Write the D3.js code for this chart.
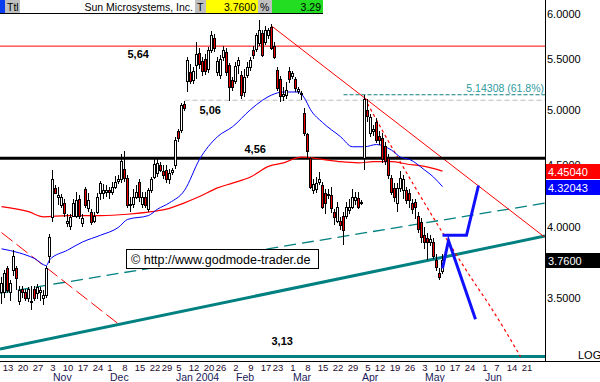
<html>
<head>
<meta charset="utf-8">
<script src="https://d3js.org/d3.v7.min.js"></script>
<style>
  body { margin: 0; background: #fff; }
  svg { display: block; }
</style>
</head>
<body>
<script>
    // ---- data ----
    const title = "Sun Microsystems, Inc.";
    const lastPrice = 3.76;
    const changePct = 3.29;
    const firstDay = "2003-10-09";
    const lastDay = "2004-06-30";
    const holidays = ["2003-11-27", "2003-12-25", "2004-01-01", "2004-01-19", "2004-02-16", "2004-04-09", "2004-05-31"];

    // daily candles, 2003-10-09 .. 2004-05-11
    const open = [
        3.54,3.54,3.70,3.54,3.69,3.70,3.48,3.56,3.54,3.50,
        3.48,3.56,3.53,3.54,3.50,3.52,3.79,4.08,4.31,4.24,
        4.17,4.19,4.03,4.01,4.09,4.09,4.22,4.03,4.30,4.15,
        4.12,4.05,4.12,4.27,4.27,4.28,4.29,4.28,4.32,4.37,
        4.38,4.47,4.39,4.17,4.18,4.24,4.36,4.18,4.24,4.14,
        4.29,4.40,4.43,4.50,4.45,4.46,4.38,4.44,4.50,4.80,
        4.81,5.05,5.28,5.37,5.29,5.44,5.57,5.48,5.50,5.40,
        5.60,5.73,5.37,5.34,5.52,5.58,5.44,5.29,5.28,5.44,
        5.34,5.17,5.34,5.42,5.60,5.61,5.67,5.78,5.68,5.76,
        5.85,5.64,5.39,5.30,5.13,5.14,5.38,5.33,5.30,5.18,
        5.16,4.97,4.77,4.56,4.29,4.30,4.36,4.33,4.27,4.25,
        4.25,4.12,4.05,4.05,4.09,4.09,4.13,4.16,4.21,4.23,
        4.19,4.56,5.00,4.78,4.80,4.88,4.76,4.74,4.67,4.56,
        4.39,4.31,4.19,4.31,4.29,4.29,4.27,4.19,4.20,4.09,
        4.04,3.94,3.92,3.89,3.89,3.76,3.67,3.68];
    const high = [
        3.64,3.69,3.72,3.62,3.83,3.72,3.58,3.58,3.56,3.57,
        3.58,3.58,3.59,3.57,3.55,3.72,3.95,4.46,4.33,4.32,
        4.26,4.22,4.10,4.10,4.22,4.28,4.25,4.10,4.32,4.27,
        4.14,4.12,4.27,4.37,4.34,4.33,4.32,4.36,4.41,4.42,
        4.60,4.62,4.42,4.24,4.30,4.33,4.38,4.28,4.28,4.31,
        4.40,4.56,4.56,4.53,4.50,4.50,4.47,4.48,4.75,4.82,
        5.06,5.08,5.52,5.45,5.42,5.68,5.62,5.52,5.56,5.63,
        5.80,5.77,5.52,5.55,5.64,5.62,5.46,5.32,5.47,5.52,
        5.38,5.40,5.47,5.53,5.64,5.78,5.93,5.82,5.86,5.84,
        5.88,5.68,5.42,5.33,5.22,5.27,5.42,5.38,5.32,5.22,
        5.18,5.02,4.78,4.57,4.38,4.40,4.44,4.36,4.30,4.30,
        4.32,4.14,4.20,4.08,4.12,4.20,4.22,4.30,4.28,4.28,
        4.21,5.14,5.10,4.96,4.86,4.92,4.80,4.78,4.70,4.60,
        4.42,4.35,4.35,4.45,4.42,4.32,4.30,4.22,4.22,4.12,
        4.07,4.00,3.96,3.94,3.92,3.80,3.70,3.80];
    const low = [
        3.46,3.50,3.53,3.48,3.65,3.55,3.45,3.50,3.48,3.47,
        3.42,3.48,3.49,3.48,3.45,3.50,3.74,4.04,4.26,4.17,
        4.15,4.08,4.00,3.98,4.08,4.07,4.06,4.00,4.15,4.12,
        4.02,4.03,4.10,4.21,4.22,4.24,4.22,4.25,4.30,4.34,
        4.35,4.36,4.15,4.12,4.15,4.22,4.20,4.15,4.15,4.12,
        4.27,4.38,4.40,4.44,4.38,4.35,4.34,4.42,4.47,4.70,
        4.78,4.99,5.17,5.25,5.25,5.30,5.40,5.33,5.34,5.36,
        5.57,5.58,5.33,5.30,5.48,5.33,5.08,5.18,5.25,5.35,
        5.10,5.12,5.31,5.38,5.50,5.58,5.64,5.52,5.65,5.72,
        5.60,5.50,5.18,5.07,5.08,5.10,5.26,5.30,5.17,5.15,
        5.09,4.76,4.56,4.30,4.26,4.27,4.33,4.14,4.10,4.22,
        4.11,4.02,4.03,3.98,3.87,4.06,4.10,4.14,4.17,4.14,
        4.17,4.46,4.88,4.75,4.76,4.69,4.68,4.52,4.50,4.38,
        4.25,4.20,4.12,4.28,4.22,4.18,4.15,4.10,4.06,3.96,
        3.88,3.84,3.76,3.86,3.77,3.68,3.62,3.66];
    const close = [
        3.60,3.67,3.55,3.60,3.79,3.63,3.55,3.54,3.50,3.56,
        3.47,3.50,3.57,3.55,3.52,3.70,3.93,4.38,4.27,4.25,
        4.24,4.11,4.05,4.08,4.19,4.21,4.09,4.07,4.17,4.21,
        4.04,4.09,4.24,4.35,4.29,4.29,4.28,4.32,4.36,4.38,
        4.54,4.39,4.17,4.18,4.24,4.28,4.24,4.24,4.17,4.29,
        4.38,4.51,4.52,4.46,4.42,4.38,4.43,4.46,4.72,4.74,
        5.04,5.02,5.49,5.28,5.38,5.56,5.45,5.38,5.38,5.60,
        5.76,5.62,5.48,5.50,5.60,5.37,5.22,5.22,5.43,5.49,
        5.14,5.32,5.42,5.49,5.55,5.76,5.82,5.55,5.82,5.81,
        5.62,5.53,5.21,5.13,5.15,5.19,5.30,5.36,5.21,5.20,
        5.15,4.78,4.62,4.32,4.34,4.35,4.38,4.16,4.19,4.26,
        4.15,4.08,4.16,4.02,3.98,4.16,4.16,4.24,4.24,4.16,
        4.20,5.10,4.94,4.93,4.82,4.72,4.72,4.55,4.54,4.42,
        4.28,4.24,4.31,4.39,4.38,4.21,4.21,4.14,4.16,3.99,
        3.93,3.89,3.89,3.91,3.79,3.71,3.64,3.76];

    // moving averages, read at sample dates
    const blueMaDates = ["2003-10-09","2003-10-17","2003-10-24","2003-10-30","2003-10-31","2003-11-10","2003-11-17","2003-11-25","2003-12-04","2003-12-09","2003-12-18","2003-12-23","2003-12-30","2004-01-07","2004-01-14","2004-01-23","2004-01-30","2004-02-09","2004-02-13","2004-02-19","2004-02-25","2004-03-03","2004-03-05","2004-03-09","2004-03-15","2004-03-23","2004-03-29","2004-04-02","2004-04-08","2004-04-16","2004-04-21","2004-04-26","2004-05-03","2004-05-06","2004-05-11"];
    const blueMa = [3.84,3.81,3.77,3.72,3.76,3.83,3.89,3.94,4.00,4.06,4.09,4.14,4.19,4.29,4.55,4.75,4.84,5.00,5.09,5.14,5.17,5.17,5.11,5.00,4.88,4.75,4.66,4.66,4.68,4.63,4.57,4.55,4.46,4.40,4.32];
    const redMaDates = ["2003-10-09","2003-10-22","2003-10-29","2003-11-10","2003-11-25","2003-12-09","2003-12-19","2003-12-29","2004-01-07","2004-01-14","2004-01-23","2004-01-30","2004-02-09","2004-02-18","2004-02-25","2004-03-04","2004-03-15","2004-03-23","2004-03-31","2004-04-07","2004-04-16","2004-04-23","2004-05-03","2004-05-11"];
    const redMa = [4.16,4.12,4.08,4.09,4.09,4.10,4.12,4.14,4.19,4.24,4.31,4.35,4.40,4.49,4.52,4.57,4.55,4.53,4.52,4.53,4.53,4.51,4.49,4.45];

    // drawn levels and trend lines
    const resistance = 5.64, pivot = 4.56, gapLevel = 5.09, floorLevel = 3.13, fibLevel = 5.14308;
    const downTrend = [["2004-02-19", 5.86], ["2004-06-29", 3.927]];
    const oldTrend = [["2003-10-09", 3.96], ["2003-12-04", 3.33]];
    const channel = [["2003-10-09", 3.533], ["2004-06-29", 4.187]];
    const support = [["2003-10-09", 3.177], ["2004-06-29", 3.933]];
    const fastTrend = [["2004-04-02", 5.11], ["2004-04-16", 4.66], ["2004-04-28", 4.31], ["2004-05-11", 3.96], ["2004-05-25", 3.62], ["2004-06-03", 3.44], ["2004-06-17", 3.13]];
    const projUp = [["2004-05-11", 3.94], ["2004-05-21", 3.94], ["2004-05-27", 4.33]];
    const projDown = [["2004-05-11", 3.70], ["2004-05-13", 3.90], ["2004-05-26", 3.36]];
    const priceTicks = [3.5, 4.0, 4.5, 5.0, 5.5, 6.0];
    const redMaLast = 4.45040, blueMaLast = 4.32043;

    // ---- trading calendar ----
    const days = [];
    for (let d = new Date(firstDay + "T12:00:00Z"); d <= new Date(lastDay + "T12:00:00Z"); d.setUTCDate(d.getUTCDate() + 1)) {
        const s = d.toISOString().slice(0, 10);
        const wd = d.getUTCDay();
        if (wd === 0 || wd === 6 || holidays.includes(s)) continue;
        days.push(s);
    }
    const dayIndex = new Map(days.map((d, i) => [d, i]));
    const parse = d3.utcParse("%Y-%m-%d");

    const W = 600, H = 382, plotRight = 545, plotTop = 14, plotBottom = 361;
    const font = '"Liberation Sans", Arial, sans-serif';

    let svg = d3.select("body").append("svg")
        .attr("width", W)
        .attr("height", H)
        .style("font-family", font);

    let x = d3.scaleLinear().domain([0, 181]).range([1.5, 544.5]);
    let y = d3.scaleLog().domain([3.104, 6]).range([plotBottom, 13.5]);

    svg.append("defs").append("clipPath").attr("id", "plot")
        .append("rect").attr("x", 0).attr("y", plotTop).attr("width", plotRight).attr("height", plotBottom - plotTop);
    let plot = svg.append("g").attr("clip-path", "url(#plot)");

    const pt = p => [x(dayIndex.get(p[0])), y(p[1])];
    const line = d3.line();

    // straight line through two anchors, stretched over the plot width
    function stretched(seg) {
        const a = pt(seg[0]), b = pt(seg[1]);
        const s = (b[1] - a[1]) / (b[0] - a[0]);
        return [[0, a[1] - s * a[0]], [plotRight, a[1] + s * (plotRight - a[0])]];
    }

    function path(points, color, width, dash, curve) {
        plot.append("path")
            .attr("d", (curve ? d3.line().curve(curve) : line)(points))
            .attr("fill", "none")
            .attr("stroke", color)
            .attr("stroke-width", width)
            .attr("stroke-dasharray", dash || null);
    }

    function hline(v, x0, color, width, dash) {
        path([[x0, y(v)], [plotRight, y(v)]], color, width, dash);
    }

    // horizontal levels
    hline(resistance, 0, "#ff0000", 1);
    hline(gapLevel, x(dayIndex.get("2004-01-07")), "#bdbdbd", 1.2, "5,3");
    hline(fibLevel, x(dayIndex.get("2004-03-24")), "#128080", 1.2, "4,2");
    hline(floorLevel, 0, "#008080", 3);

    // trend lines
    path(stretched(channel), "#008080", 1.3, "12,6");
    path(stretched(support), "#008080", 3);
    path(oldTrend.map(pt), "#ff0000", 1, "14,5");
    path(downTrend.map(pt), "#ff0000", 1);
    path(fastTrend.map(pt), "#ff0000", 1.2, "3,3", d3.curveMonotoneX);

    hline(pivot, 0, "#000", 3);

    // moving averages
    path(redMaDates.map((d, i) => pt([d, redMa[i]])), "#ff0000", 1.2, null, d3.curveMonotoneX);
    path(blueMaDates.map((d, i) => pt([d, blueMa[i]])), "#0000ff", 1, null, d3.curveMonotoneX);

    // candles
    const candles = plot.append("g").attr("shape-rendering", "crispEdges");
    close.forEach((c, i) => {
        const o = open[i];
        const xc = x(i);
        candles.append("line")
            .attr("x1", xc).attr("x2", xc)
            .attr("y1", Math.round(y(high[i]))).attr("y2", Math.round(y(low[i])))
            .attr("stroke", "#000");
        const top = Math.round(y(Math.max(o, c))) + 0.5;
        const bot = Math.round(y(Math.min(o, c))) + 0.5;
        candles.append("rect")
            .attr("x", xc - 1).attr("width", 2)
            .attr("y", top).attr("height", Math.max(1, bot - top))
            .attr("fill", c >= o ? "#fff" : "#ee0000")
            .attr("stroke", "#000");
    });

    // projections
    path(projUp.map(pt), "#1010ff", 3);
    path(projDown.map(pt), "#1010ff", 3);

    // level labels
    function label(text, date, v, dy) {
        plot.append("text")
            .attr("x", x(dayIndex.get(date)))
            .attr("y", y(v) + dy)
            .attr("font-size", 11).attr("font-weight", "bold")
            .attr("fill", "#000")
            .text(text);
    }
    label("5,64", "2003-12-09", resistance, 12);
    label("5,06", "2004-01-14", gapLevel, 14);
    label("4,56", "2004-02-05", pivot, -5);
    label("3,13", "2004-02-19", floorLevel, -12);

    plot.append("text")
        .attr("x", plotRight - 1).attr("y", y(fibLevel) - 3)
        .attr("text-anchor", "end").attr("font-size", 10.5).attr("fill", "#2e9a9e")
        .text(d3.format(".5f")(fibLevel) + " (61.8%)");

    // copyright box
    svg.append("rect").attr("x", 126.5).attr("y", 249.5).attr("width", 192).attr("height", 19)
        .attr("fill", "#fff").attr("stroke", "#000");
    svg.append("text").attr("x", 131).attr("y", 264).attr("font-size", 12.5).attr("fill", "#000")
        .text("\u00a9 http://www.godmode-trader.de");

    // right price axis
    let yAxis = svg.append("g")
        .attr("transform", "translate(" + plotRight + ",0)")
        .call(d3.axisRight(y).tickValues(priceTicks).tickFormat(d3.format(".4f")).tickSize(0).tickPadding(2));
    yAxis.select(".domain").remove();
    yAxis.selectAll("text").attr("font-size", 11).attr("font-family", font).attr("fill", "#000");

    function valueBox(v, bg) {
        const g = svg.append("g").attr("shape-rendering", "crispEdges");
        g.append("rect").attr("x", plotRight + 1).attr("y", Math.round(y(v)) - 7).attr("width", W - plotRight - 1).attr("height", 15).attr("fill", bg);
        g.append("text").attr("x", plotRight + 3).attr("y", Math.round(y(v)) + 4.5)
            .attr("font-size", 11).attr("fill", "#fff").text(d3.format(v === lastPrice ? ".4f" : ".5f")(v));
    }
    valueBox(redMaLast, "#ff0000");
    valueBox(blueMaLast, "#0000ff");
    valueBox(lastPrice, "#000");

    svg.append("line").attr("x1", plotRight + 0.5).attr("x2", plotRight + 0.5).attr("y1", 0).attr("y2", plotBottom)
        .attr("stroke", "#000").attr("shape-rendering", "crispEdges");
    svg.append("line").attr("x1", 0).attr("x2", W).attr("y1", plotBottom + 0.5).attr("y2", plotBottom + 0.5)
        .attr("stroke", "#000").attr("shape-rendering", "crispEdges");
    svg.append("text").attr("x", 578).attr("y", 359).attr("font-size", 11).attr("fill", "#000").text("LOG");

    // date axis
    const weekStarts = d3.range(1, days.length).filter(i => parse(days[i]).getUTCDay() < parse(days[i - 1]).getUTCDay() && x(i) < 530);
    const monthStarts = d3.range(1, days.length).filter(i => days[i].slice(5, 7) !== days[i - 1].slice(5, 7));

    let xAxis = svg.append("g")
        .attr("transform", "translate(0," + plotBottom + ")")
        .call(d3.axisBottom(x).tickValues(weekStarts).tickFormat(i => +days[i].slice(8)).tickSize(0).tickPadding(3));
    xAxis.select(".domain").remove();
    xAxis.selectAll("text").attr("font-size", 9.5).attr("font-family", font).attr("fill", "#2a0a30");

    let mAxis = svg.append("g")
        .attr("transform", "translate(0," + (plotBottom + 13) + ")")
        .call(d3.axisBottom(x).tickValues(monthStarts).tickSize(0).tickPadding(0)
            .tickFormat(i => { const d = parse(days[i]); return d3.utcFormat(d.getUTCMonth() === 0 ? "%b %Y" : "%b")(d); }));
    mAxis.select(".domain").remove();
    mAxis.selectAll("text").attr("font-size", 10.5).attr("font-family", font).attr("fill", "#1a1a5a").attr("text-anchor", "start");

    // header strip
    const head = svg.append("g").attr("shape-rendering", "crispEdges");
    const cells = [
        [0, 5, "#0a3cf0", "", "start"],
        [5, 15, "#c0c0c0", "Ttl", "start"],
        [20, 175, "#fff", title, "end"],
        [195, 11, "#c0c0c0", "T", "start"],
        [206, 52, "#ffff00", d3.format(".4f")(lastPrice), "end"],
        [258, 14, "#c0c0c0", "%", "start"],
        [272, 51, "#22dd22", d3.format(".2f")(changePct), "end"]
    ];
    cells.forEach(c => {
        head.append("rect").attr("x", c[0]).attr("y", 0).attr("width", c[1]).attr("height", 13).attr("fill", c[2]);
        if (c[3]) head.append("text")
            .attr("x", c[4] === "end" ? c[0] + c[1] - 2 : c[0] + 2)
            .attr("y", 10.5).attr("text-anchor", c[4])
            .attr("font-size", 10.5).attr("fill", "#000")
            .text(c[3]);
    });
    head.append("line").attr("x1", 0).attr("x2", 323).attr("y1", 13.5).attr("y2", 13.5).attr("stroke", "#000");
</script>
</body>
</html>
